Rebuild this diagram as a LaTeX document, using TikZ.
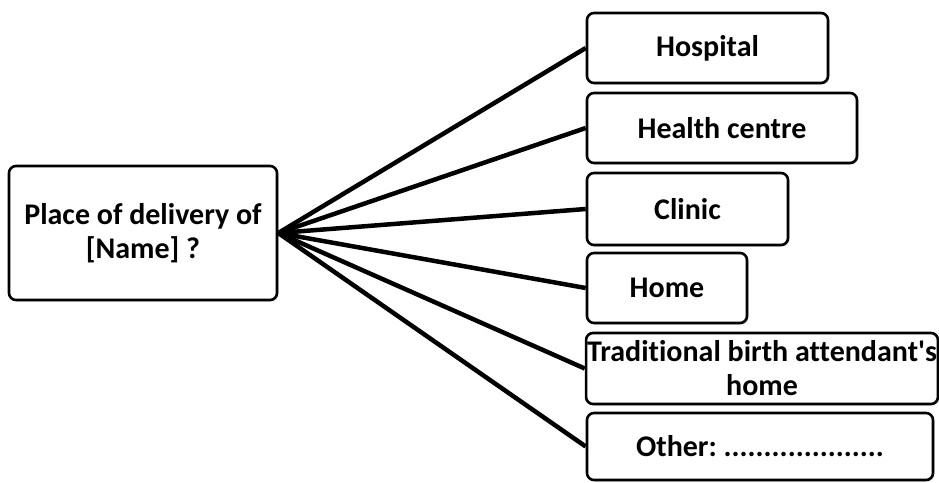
\documentclass[tikz,border=0pt]{standalone}
\usepackage{fontspec}
\setmainfont{Carlito}[Ligatures=NoCommon]
\usetikzlibrary{shadows}
\begin{document}
\begin{tikzpicture}[x=1pt, y=-1pt,
  box/.style={draw, line width=2.6pt, rounded corners=7pt, fill=white,
    align=center, inner sep=1pt, font=\fontsize{30}{34}\selectfont\bfseries,
    drop shadow={shadow xshift=1.5pt, shadow yshift=-1.5pt, opacity=0.3}},
  link/.style={line width=4.5pt}]
  \useasboundingbox (0,0) rectangle (939,482);

  % Question box
  \node[box, minimum width=268pt, minimum height=134pt] (place) at (143,233)
    {Place of delivery of\\{}[Name] ?};

  % Answer boxes
  \node[box, minimum width=241pt, minimum height=70pt] (hosp) at (707.5,48) {Hospital};
  \node[box, minimum width=270pt, minimum height=70pt] (health) at (722,128) {Health centre};
  \node[box, minimum width=201pt, minimum height=72pt] (clinic) at (687.5,209) {Clinic};
  \node[box, minimum width=160pt, minimum height=70pt] (home) at (667,288) {Home};
  \node[box, minimum width=350pt, minimum height=71pt] (tba) at (762,368.5)
    {Traditional birth attendant\textquotesingle s\\home};
  \node[box, minimum width=346pt, minimum height=67pt] (other) at (760,446.5)
    {Other:\ ....................};

  % Connectors
  \foreach \n in {hosp,health,clinic,home,tba,other}
    \draw[link] (place.east) -- (\n.west);
\end{tikzpicture}
\end{document}
